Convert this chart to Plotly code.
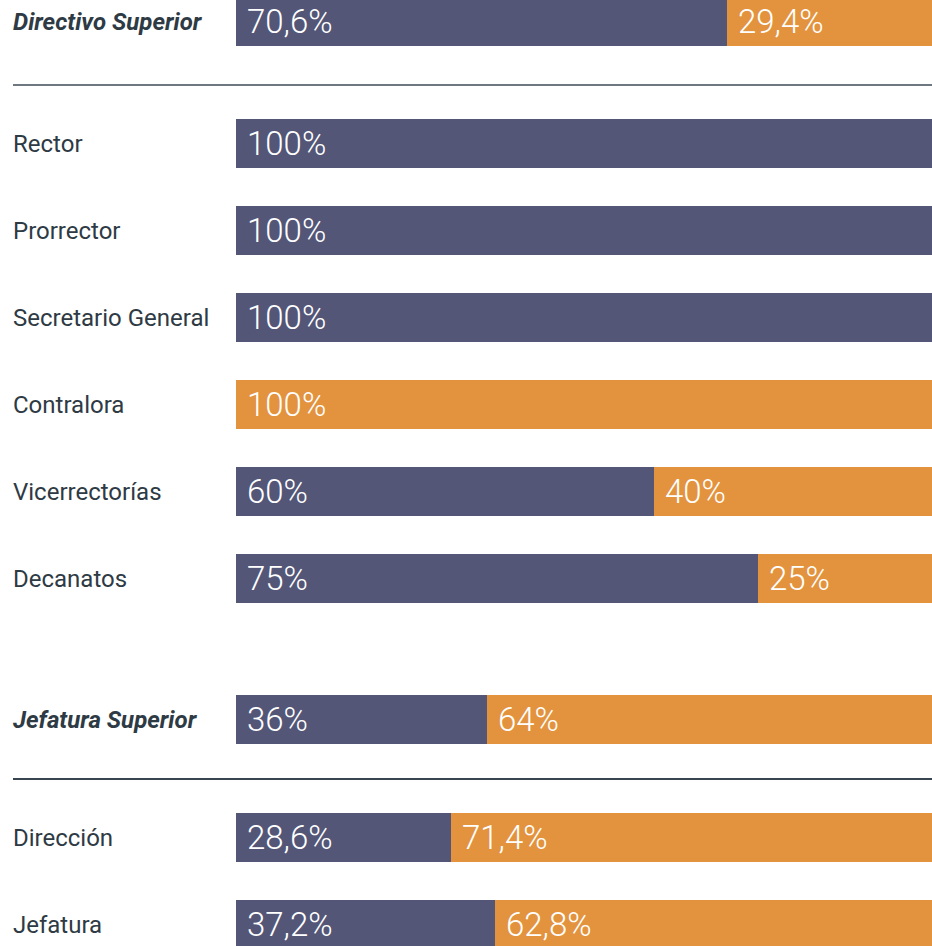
import plotly.graph_objects as go

# ---- data ----
categories = ["Directivo Superior", "Rector", "Prorrector", "Secretario General",
              "Contralora", "Vicerrectorías", "Decanatos",
              "Jefatura Superior", "Dirección", "Jefatura"]
# bar lengths as drawn in the picture (Dirección bar is drawn at ~31%)
hombres = [70.6, 100, 100, 100, 0, 60, 75, 36, 30.9, 37.2]
mujeres = [29.4, 0, 0, 0, 100, 40, 25, 64, 69.1, 62.8]
hombres_labels = ["70,6%", "100%", "100%", "100%", "", "60%", "75%", "36%", "28,6%", "37,2%"]
mujeres_labels = ["29,4%", "", "", "", "100%", "40%", "25%", "64%", "71,4%", "62,8%"]
group_headers = ["Directivo Superior", "Jefatura Superior"]

# ---- layout (pixel-based positions) ----
W, H = 932, 946
bar_left_px = 236
row_y = [21.5, 143.5, 230.5, 317.5, 404.5, 491.5, 578.5, 719.5, 837.5, 924.5]
bar_h = 49
divider_y = [85, 779]

PURPLE = "#535677"
ORANGE = "#E3933D"
TEXT = "#2E3A44"

x_min = -bar_left_px / (W - bar_left_px) * 100

fig = go.Figure()
fig.add_trace(go.Bar(y=row_y, x=hombres, orientation="h", width=bar_h,
                     marker=dict(color=PURPLE, line=dict(width=0)),
                     name="Hombres", hoverinfo="skip"))
fig.add_trace(go.Bar(y=row_y, x=mujeres, orientation="h", width=bar_h,
                     marker=dict(color=ORANGE, line=dict(width=0)),
                     name="Mujeres", hoverinfo="skip"))

annotations = []
val_font = dict(family="Roboto", size=33, color="white", weight=300)
for i, cat in enumerate(categories):
    txt = f"<b><i>{cat}</i></b>" if cat in group_headers else cat
    annotations.append(dict(x=0, xref="paper", xshift=11, y=row_y[i], yref="y",
                            text=txt, showarrow=False, xanchor="left", yanchor="middle",
                            font=dict(family="Roboto", size=24, color=TEXT)))
    if hombres_labels[i]:
        annotations.append(dict(x=0, xref="x", xshift=9, y=row_y[i], yref="y",
                                text=hombres_labels[i], showarrow=False, xanchor="left",
                                yanchor="middle", font=val_font))
    if mujeres_labels[i]:
        annotations.append(dict(x=hombres[i], xref="x", xshift=9, y=row_y[i], yref="y",
                                text=mujeres_labels[i], showarrow=False, xanchor="left",
                                yanchor="middle", font=val_font))

shapes = []
line_colors = ["#6F7880", "#384450"]
for yy, c in zip(divider_y, line_colors):
    shapes.append(dict(type="line", xref="paper", x0=13 / W, x1=1, yref="y", y0=yy, y1=yy,
                       line=dict(color=c, width=2)))

fig.update_layout(
    width=W, height=H, barmode="stack", showlegend=False,
    margin=dict(l=0, r=0, t=0, b=0),
    paper_bgcolor="white", plot_bgcolor="white",
    xaxis=dict(range=[x_min, 100], visible=False, fixedrange=True),
    yaxis=dict(range=[H, 0], visible=False, fixedrange=True),
    annotations=annotations, shapes=shapes,
)
fig.write_html("out.html", config={"displayModeBar": False},
               post_script="document.body.style.margin='0';document.body.style.overflow='hidden';")
